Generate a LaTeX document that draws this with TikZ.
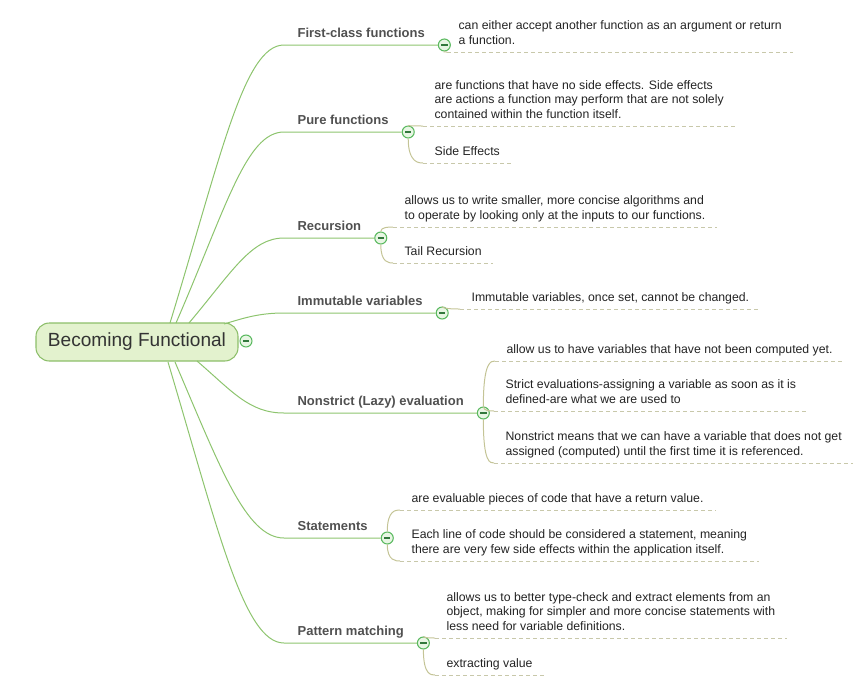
\documentclass[tikz,border=0pt]{standalone}
\usepackage{fontspec}
\setmainfont{Liberation Sans}
\usepackage{tikz}
\usetikzlibrary{calc}

\definecolor{limbgreen}{RGB}{141,196,110}
\definecolor{twigtan}{RGB}{196,196,150}
\definecolor{dashgray}{RGB}{200,200,170}
\definecolor{rootfill}{RGB}{227,242,206}
\definecolor{rootdraw}{RGB}{140,190,105}
\definecolor{knobdraw}{RGB}{90,185,95}
\definecolor{knobfill}{RGB}{232,246,228}
\definecolor{knobbar}{RGB}{50,120,60}
\definecolor{titlegray}{RGB}{80,80,80}
\definecolor{leafgray}{RGB}{35,35,35}

\tikzset{
  rootbox/.style={draw=rootdraw, fill=rootfill, line width=0.8pt, rounded corners=10pt,
    minimum width=151.5pt, minimum height=28.5pt, font=\fontsize{14.3}{16}\selectfont, text=black!80},
  branchtitle/.style={anchor=south west, inner xsep=10pt, inner ysep=3.7pt, text depth=2pt,
    font=\fontsize{9.75}{12}\selectfont\bfseries, text=titlegray},
  leaf/.style={anchor=south west, align=left, inner xsep=8.5pt, inner ysep=3.5pt, text depth=2pt,
    font=\fontsize{9.2}{11}\selectfont, text=leafgray},
  knob/.style={circle, draw=knobdraw, fill=knobfill, line width=0.8pt, minimum size=9pt, inner sep=0pt,
    path picture={\draw[knobbar, line width=1.3pt]
      ([xshift=-2.4pt]path picture bounding box.center) -- ([xshift=2.4pt]path picture bounding box.center);}},
  limb/.style={draw=limbgreen, line width=0.75pt},
  twig/.style={draw=twigtan, line width=0.75pt},
  dashline/.style={draw=dashgray, line width=0.75pt, dash pattern=on 3pt off 2.25pt},
}

\begin{document}
\begin{tikzpicture}[x=0.75pt, y=-0.75pt]
  \useasboundingbox (0,0) rectangle (861,686);

  % Root
  \node[rootbox] (root) at (137,342) {Becoming Functional};
  \node[knob] (rk) at (246,341) {};

  % Start points on the root
  \coordinate (s1) at (170,323);
  \coordinate (s2) at (176,323);
  \coordinate (s3) at (189,323);
  \coordinate (s4) at (224,324);
  \coordinate (s5) at (197,361);
  \coordinate (s6) at (175,362);
  \coordinate (s7) at (168,362);

  % Branch titles
  \node[branchtitle] (t1) at (284,45) {First-class functions};
  \node[branchtitle] (t2) at (284,132) {Pure functions};
  \node[branchtitle] (t3) at (284,238) {Recursion};
  \node[branchtitle] (t4) at (284,313) {Immutable variables};
  \node[branchtitle] (t5) at (284,413) {Nonstrict (Lazy) evaluation};
  \node[branchtitle] (t6) at (284,538) {Statements};
  \node[branchtitle] (t7) at (284,643) {Pattern matching};

  \foreach \i in {1,...,7}
    \node[knob] (k\i) at ([xshift=4.5pt]t\i.south east) {};

  % Branches
  \foreach \i/\a/\b/\c in {1/51/-167/40, 2/50/-115/38, 3/43/-51/33, 4/20/-6/25,
                            5/35/30/35, 6/45/105/38, 7/50/168/40}
    \draw[limb] (s\i) .. controls +(\a,\b) and +(-\c,0) .. (t\i.south west) -- (k\i);

  % Leaves
  \node[leaf] (l1a) at (447,52) {can either accept another function as an argument or return\\a function.};
  \node[leaf] (l2a) at (423,126) {are functions that have no side effects. Side effects\\are actions a function may perform that are not solely\\contained within the function itself.};
  \node[leaf] (l2b) at (423,163) {Side Effects};
  \node[leaf] (l3a) at (393,227) {allows us to write smaller, more concise algorithms and\\to operate by looking only at the inputs to our functions.};
  \node[leaf] (l3b) at (393,263) {Tail Recursion};
  \node[leaf] (l4a) at (460,309) {Immutable variables, once set, cannot be changed.};
  \node[leaf] (l5a) at (495,361) {allow us to have variables that have not been computed yet.};
  \node[leaf] (l5b) at (494,411) {Strict evaluations-assigning a variable as soon as it is\\defined-are what we are used to};
  \node[leaf] (l5c) at (494,463) {Nonstrict means that we can have a variable that does not get\\assigned (computed) until the first time it is referenced.};
  \node[leaf] (l6a) at (400,510) {are evaluable pieces of code that have a return value.};
  \node[leaf] (l6b) at (400,561) {Each line of code should be considered a statement, meaning\\there are very few side effects within the application itself.};
  \node[leaf] (l7a) at (435,638) {allows us to better type-check and extract elements from an\\object, making for simpler and more concise statements with\\less need for variable definitions.};
  \node[leaf] (l7b) at (435,675) {extracting value};

  \foreach \n in {l1a,l2a,l2b,l3a,l3b,l4a,l5a,l5b,l5c,l6a,l6b,l7a,l7b}
    \draw[dashline] (\n.south west) -- (\n.south east);

  % Twigs from knobs to leaves
  \foreach \k/\n in {k1/l1a, k2/l2a, k2/l2b, k3/l3a, k3/l3b, k4/l4a, k5/l5a, k5/l5b,
                     k5/l5c, k6/l6a, k6/l6b, k7/l7a, k7/l7b}
    \draw[twig] (\k) .. controls (\k |- \n.south west) and +(-4,0) .. (\n.south west);
\end{tikzpicture}
\end{document}
